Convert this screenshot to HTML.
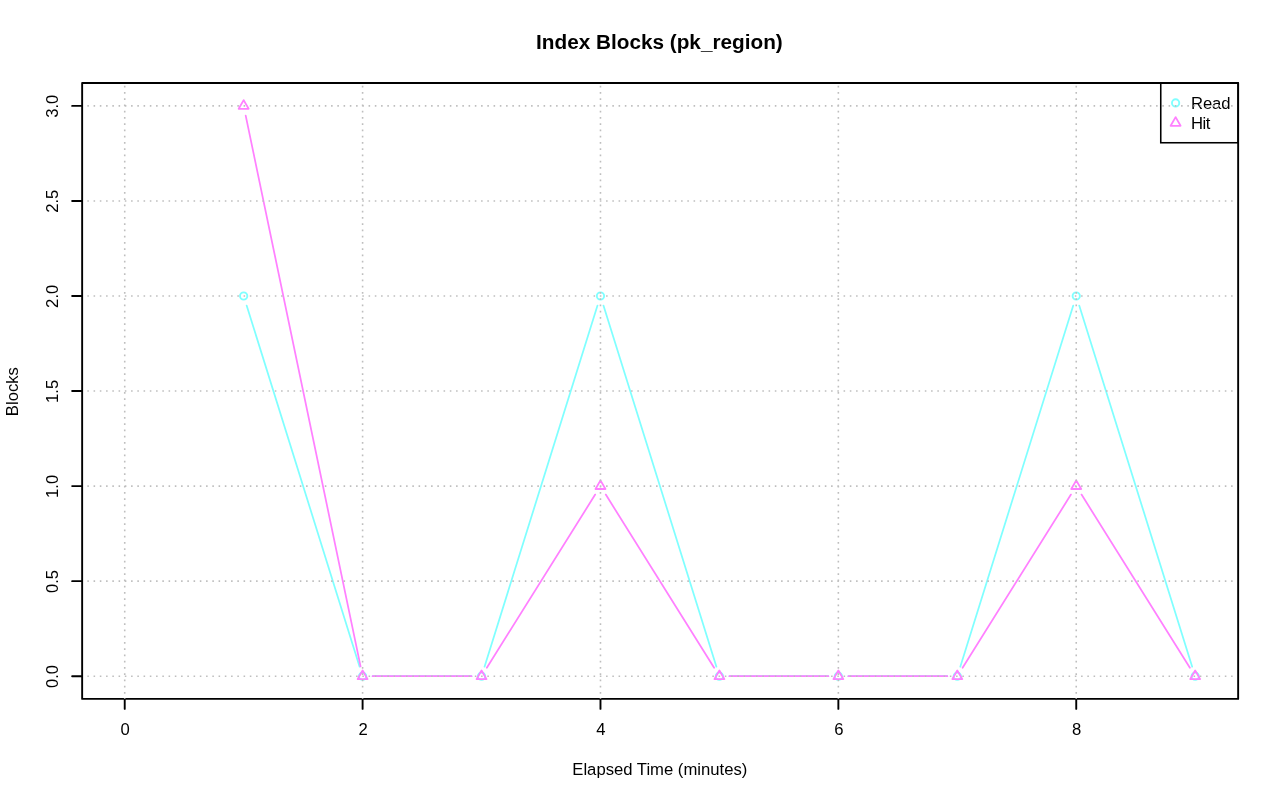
<!DOCTYPE html>
<html><head><meta charset="utf-8"><title>Index Blocks (pk_region)</title>
<style>html,body{margin:0;padding:0;background:#fff}svg{display:block;will-change:transform}</style>
</head><body>
<svg width="1280" height="801" viewBox="0 0 1280 801" font-family="'Liberation Sans', sans-serif" fill="#000">
<rect width="1280" height="801" fill="#fff"/>
<path d="M246.65 305.54L359.61 666.66M372.60 676.20L471.54 676.20M484.53 666.66L597.49 305.54M603.47 305.54L716.43 666.66M729.42 676.20L828.36 676.20M848.36 676.20L947.30 676.20M960.29 666.66L1073.25 305.54M1079.23 305.54L1192.19 666.66" fill="none" stroke="#80ffff" stroke-width="1.75" stroke-linecap="round"/>
<circle cx="243.66" cy="296.00" r="3.65" fill="none" stroke="#80ffff" stroke-width="1.9"/>
<circle cx="362.60" cy="676.20" r="3.65" fill="none" stroke="#80ffff" stroke-width="1.9"/>
<circle cx="481.54" cy="676.20" r="3.65" fill="none" stroke="#80ffff" stroke-width="1.9"/>
<circle cx="600.48" cy="296.00" r="3.65" fill="none" stroke="#80ffff" stroke-width="1.9"/>
<circle cx="719.42" cy="676.20" r="3.65" fill="none" stroke="#80ffff" stroke-width="1.9"/>
<circle cx="838.36" cy="676.20" r="3.65" fill="none" stroke="#80ffff" stroke-width="1.9"/>
<circle cx="957.30" cy="676.20" r="3.65" fill="none" stroke="#80ffff" stroke-width="1.9"/>
<circle cx="1076.24" cy="296.00" r="3.65" fill="none" stroke="#80ffff" stroke-width="1.9"/>
<circle cx="1195.18" cy="676.20" r="3.65" fill="none" stroke="#80ffff" stroke-width="1.9"/>
<path d="M245.70 115.69L360.56 666.41M372.60 676.20L471.54 676.20M486.84 667.72L595.18 494.58M605.78 494.58L714.12 667.72M729.42 676.20L828.36 676.20M848.36 676.20L947.30 676.20M962.60 667.72L1070.94 494.58M1081.54 494.58L1189.88 667.72" fill="none" stroke="#ff80ff" stroke-width="1.75" stroke-linecap="round"/>
<path d="M243.66 100.15L248.64 108.78L238.68 108.78Z" fill="none" stroke="#ff80ff" stroke-width="1.8" stroke-linejoin="round"/>
<path d="M362.60 670.45L367.58 679.08L357.62 679.08Z" fill="none" stroke="#ff80ff" stroke-width="1.8" stroke-linejoin="round"/>
<path d="M481.54 670.45L486.52 679.08L476.56 679.08Z" fill="none" stroke="#ff80ff" stroke-width="1.8" stroke-linejoin="round"/>
<path d="M600.48 480.35L605.46 488.98L595.50 488.98Z" fill="none" stroke="#ff80ff" stroke-width="1.8" stroke-linejoin="round"/>
<path d="M719.42 670.45L724.40 679.08L714.44 679.08Z" fill="none" stroke="#ff80ff" stroke-width="1.8" stroke-linejoin="round"/>
<path d="M838.36 670.45L843.34 679.08L833.38 679.08Z" fill="none" stroke="#ff80ff" stroke-width="1.8" stroke-linejoin="round"/>
<path d="M957.30 670.45L962.28 679.08L952.32 679.08Z" fill="none" stroke="#ff80ff" stroke-width="1.8" stroke-linejoin="round"/>
<path d="M1076.24 480.35L1081.22 488.98L1071.26 488.98Z" fill="none" stroke="#ff80ff" stroke-width="1.8" stroke-linejoin="round"/>
<path d="M1195.18 670.45L1200.16 679.08L1190.20 679.08Z" fill="none" stroke="#ff80ff" stroke-width="1.8" stroke-linejoin="round"/>
<rect x="82.15" y="82.95" width="1156.00" height="615.95" fill="none" stroke="#000" stroke-width="1.9" stroke-linejoin="round"/>
<path d="M124.72 698.9V708.90M362.60 698.9V708.90M600.48 698.9V708.90M838.36 698.9V708.90M1076.24 698.9V708.90M82.15 676.20H72.15M82.15 581.15H72.15M82.15 486.10H72.15M82.15 391.05H72.15M82.15 296.00H72.15M82.15 200.95H72.15M82.15 105.90H72.15" fill="none" stroke="#000" stroke-width="1.9" stroke-linecap="round"/>
<text x="125.22" y="735" font-size="16.667" text-anchor="middle">0</text>
<text x="363.10" y="735" font-size="16.667" text-anchor="middle">2</text>
<text x="600.98" y="735" font-size="16.667" text-anchor="middle">4</text>
<text x="838.86" y="735" font-size="16.667" text-anchor="middle">6</text>
<text x="1076.74" y="735" font-size="16.667" text-anchor="middle">8</text>
<text transform="translate(58.2 676.50) rotate(-90)" font-size="16.667" text-anchor="middle">0.0</text>
<text transform="translate(58.2 581.45) rotate(-90)" font-size="16.667" text-anchor="middle">0.5</text>
<text transform="translate(58.2 486.40) rotate(-90)" font-size="16.667" text-anchor="middle">1.0</text>
<text transform="translate(58.2 391.35) rotate(-90)" font-size="16.667" text-anchor="middle">1.5</text>
<text transform="translate(58.2 296.30) rotate(-90)" font-size="16.667" text-anchor="middle">2.0</text>
<text transform="translate(58.2 201.25) rotate(-90)" font-size="16.667" text-anchor="middle">2.5</text>
<text transform="translate(58.2 106.20) rotate(-90)" font-size="16.667" text-anchor="middle">3.0</text>
<text x="659.4" y="48.9" font-size="20.75" font-weight="bold" text-anchor="middle">Index Blocks (pk_region)</text>
<text x="659.8" y="774.7" font-size="16.667" text-anchor="middle">Elapsed Time (minutes)</text>
<text transform="translate(18.2 391.65) rotate(-90)" font-size="16.667" text-anchor="middle">Blocks</text>
<rect x="1160.75" y="83" width="77.40" height="59.75" fill="none" stroke="#000" stroke-width="1.5625"/>
<circle cx="1175.60" cy="102.90" r="3.65" fill="none" stroke="#80ffff" stroke-width="1.9"/>
<path d="M1175.60 117.15L1180.58 125.78L1170.62 125.78Z" fill="none" stroke="#ff80ff" stroke-width="1.8" stroke-linejoin="round"/>
<text x="1191.05" y="108.75" font-size="16.667" textLength="39.4" lengthAdjust="spacing">Read</text>
<text x="1191.05" y="128.6" font-size="16.667" textLength="19.4" lengthAdjust="spacing">Hit</text>
<path d="M124.72 85.82V698.9M362.60 85.82V698.9M600.48 85.82V698.9M838.36 85.82V698.9M1076.24 85.82V698.9M87.32 676.20H1237M87.32 581.15H1237M87.32 486.10H1237M87.32 391.05H1237M87.32 296.00H1237M87.32 200.95H1237M87.32 105.90H1237" fill="none" stroke="#bebebe" stroke-width="1.5625" stroke-dasharray="1.5625 4.6875"/>
</svg>
</body></html>
